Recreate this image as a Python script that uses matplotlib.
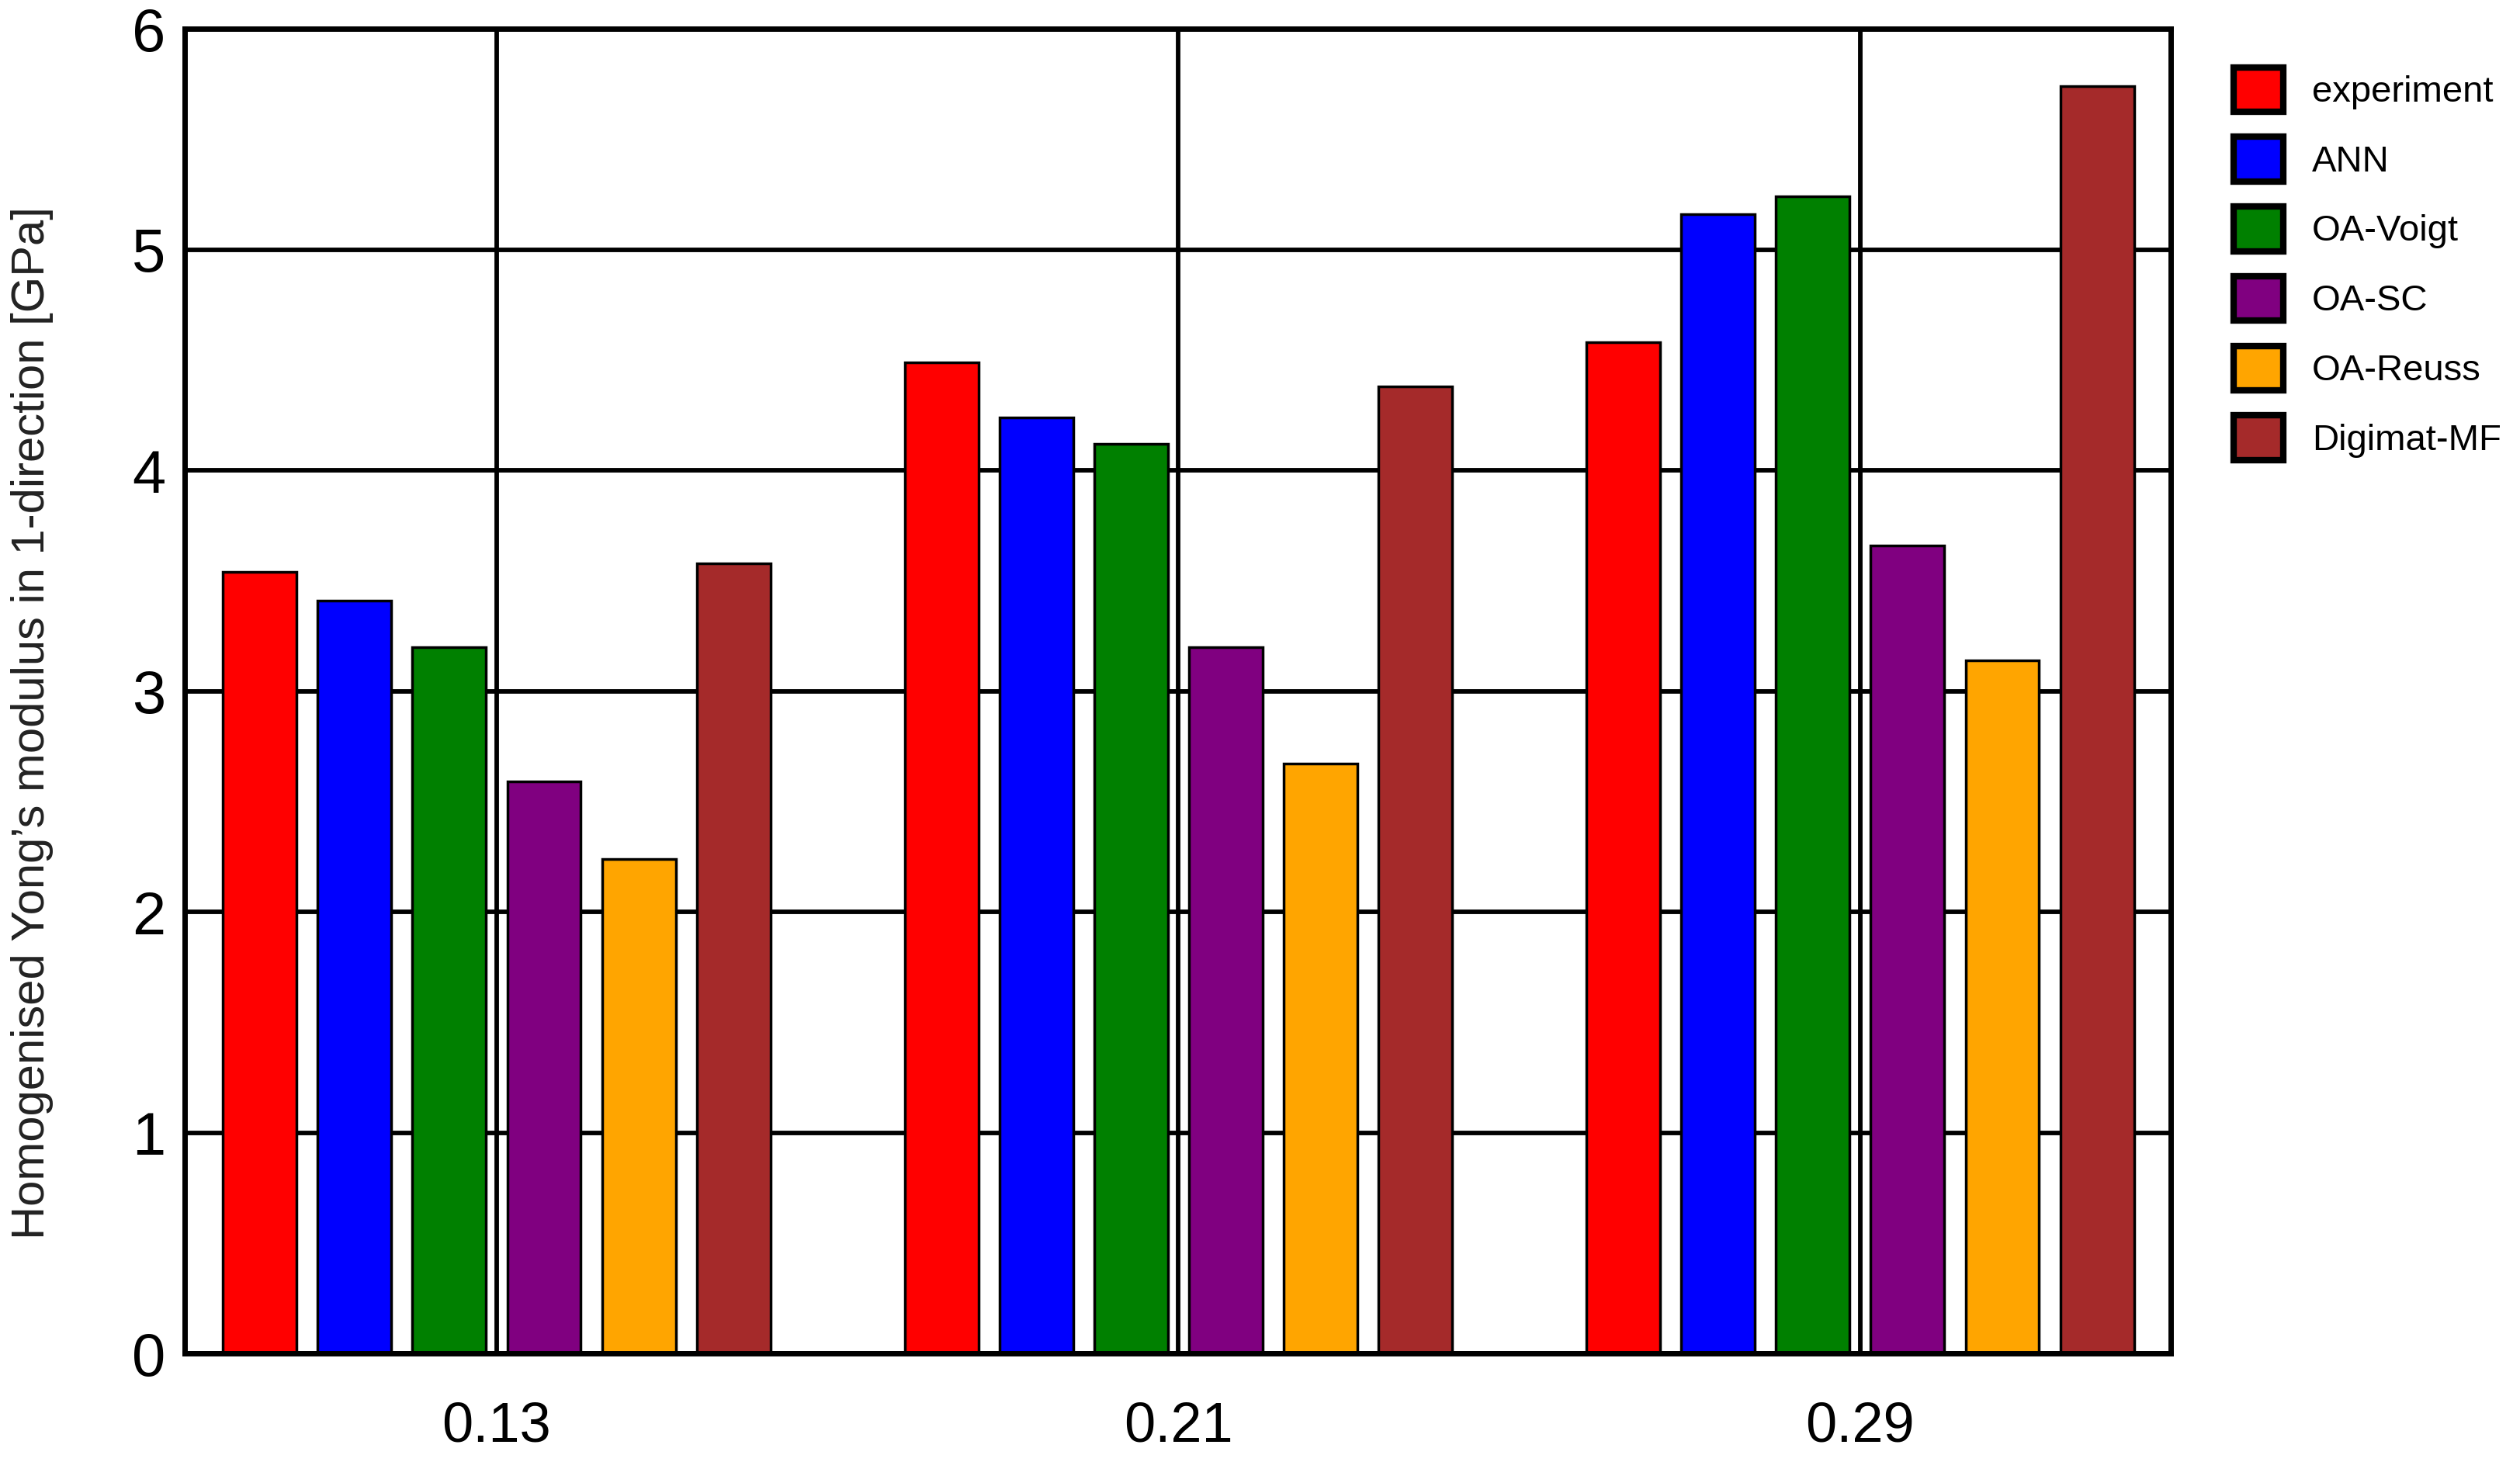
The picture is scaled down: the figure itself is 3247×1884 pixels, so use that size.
import numpy as np
import matplotlib
matplotlib.use("Agg")
import matplotlib.pyplot as plt

plt.rcParams['font.family'] = ['Liberation Sans', 'DejaVu Sans']

# data
fractions = ['0.13', '0.21', '0.29']
experiment = [3.54, 4.49, 4.58]
ann = [3.41, 4.24, 5.16]
oa_voigt = [3.20, 4.12, 5.24]
oa_sc = [2.59, 3.20, 3.66]
oa_reuss = [2.24, 2.67, 3.14]
digimat = [3.58, 4.38, 5.74]

series = [experiment, ann, oa_voigt, oa_sc, oa_reuss, digimat]
labels = ['experiment', 'ANN', 'OA-Voigt', 'OA-SC', 'OA-Reuss', 'Digimat-MF']
colors = ['red', 'blue', 'green', 'purple', 'orange', 'brown']

fig = plt.figure(figsize=(32.48, 18.84), dpi=100)
ax = fig.add_axes([0.0733, 0.0743, 0.7877, 0.906])

x = np.arange(len(fractions))
step = 0.139
width = 0.108
for i, (vals, lab, c) in enumerate(zip(series, labels, colors)):
    ax.bar(x + (i - 2.5) * step, vals, width, color=c, edgecolor='black',
           linewidth=2.5, label=lab, zorder=3)

ax.set_xlim(-0.4575, 2.455)
ax.set_ylim(0, 6)
ax.set_xticks(x)
ax.set_xticklabels(fractions)
ax.set_yticks(range(0, 7))
ax.tick_params(axis='both', length=0)
ax.tick_params(axis='y', labelsize=56, pad=18)
ax.tick_params(axis='x', labelsize=52, pad=44)
ax.grid(True, color='black', linewidth=4.2, zorder=0)
ax.set_axisbelow(True)
for s in ax.spines.values():
    s.set_linewidth(5)
    s.set_zorder(4)

ax.set_ylabel('Homogenised Yong\u2019s modulus in 1-direction [GPa]',
              fontsize=43, color='#222222')
ax.yaxis.set_label_coords(-0.066, 0.476)

leg = fig.legend(loc='upper left', bbox_to_anchor=(0.886, 0.954),
                 frameon=False, fontsize=34, borderpad=0, borderaxespad=0,
                 handlelength=1.36, handleheight=1.5, labelspacing=0.68,
                 handletextpad=0.78)
for h in leg.legend_handles:
    h.set_linewidth(6)

fig.savefig('out.png', dpi=100)
